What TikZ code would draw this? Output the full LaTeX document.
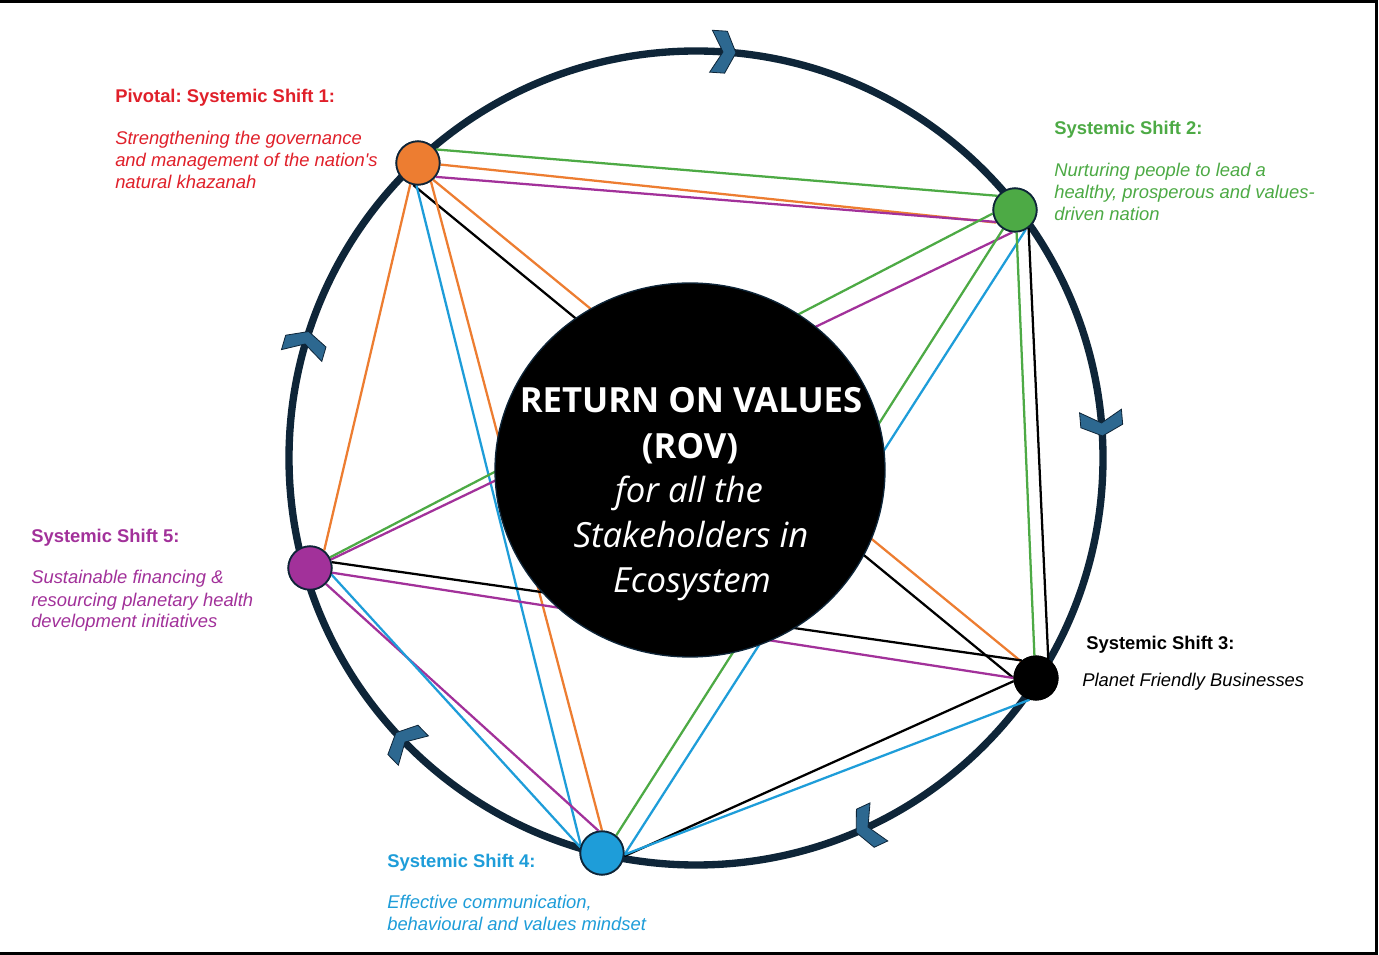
\documentclass[tikz,border=0pt]{standalone}
\usepackage{fontspec}
\setmainfont{Liberation Sans}
\newfontfamily\rovfont{Open Sans}
\usetikzlibrary{shapes.geometric}
\frenchspacing
\definecolor{ringc}{HTML}{0E2538}
\definecolor{chevc}{HTML}{2D6890}
\definecolor{redc}{HTML}{E0202A}
\definecolor{orc}{HTML}{ED7D31}
\definecolor{grc}{HTML}{4DAA45}
\definecolor{blc}{HTML}{1E9DD9}
\definecolor{puc}{HTML}{A2319A}
\begin{document}
\begin{tikzpicture}[x=0.75pt,y=-0.75pt,
  shiftnode/.style={circle, draw=ringc, line width=1.3pt, minimum size=32.5pt, inner sep=0pt},
  link/.style={line width=1.7pt},
  ttl/.style={anchor=base west, inner sep=0pt, font=\bfseries\fontsize{13.8}{16}\selectfont},
  bdy/.style={anchor=base west, inner sep=0pt, font=\itshape\fontsize{13.8}{16}\selectfont},
  rovl/.style={anchor=base, inner sep=0pt, text=white, font=\rovfont\fontsize{26}{30}\selectfont},
  chev/.pic={\draw[fill=chevc, draw=ringc, line width=0.6pt, line join=miter]
     (13,0) -- (3,21) -- (-12,21) -- (0,0) -- (-12,-21) -- (3,-21) -- cycle;}
]
\useasboundingbox[fill=white] (0,0) rectangle (1379,955);
% frame
\draw[line width=2pt] (0,1.4) -- (1376.2,1.4) -- (1376.2,953.3) -- (0,953.3);
% ring
\draw[ringc, line width=5.5pt] (696,458) circle[radius=407];
% shift nodes (placed first for anchors, redrawn later on top)
\node[shiftnode, fill=orc] (n1) at (418,163) {};
\node[shiftnode, fill=grc] (n2) at (1015,210) {};
\node[shiftnode, fill=black, draw=black] (n3) at (1036,678) {};
\node[shiftnode, fill=blc] (n4) at (602,853) {};
\node[shiftnode, fill=puc] (n5) at (310,568) {};
% links
\draw[link, grc] (n1.37) -- (n2.141);
\draw[link, orc] (n1.-4) -- (n2.214);
\draw[link, puc] (n1.-38) -- (n2.212);
\draw[link, orc] (n1.-48) -- (n3.132);
\draw[link, black] (n1.-102) -- (n3.180);
\draw[link, orc] (n1.-55) -- (n4.90);
\draw[link, blc] (n1.-94) -- (n4.160);
\draw[link, orc] (n1.-110) -- (n5.51);
\draw[link, grc] (n2.189) -- (n5.28);
\draw[link, puc] (n2.-97) -- (n5.22);
\draw[link, grc] (n2.238) -- (n4.51);
\draw[link, blc] (n2.-62) -- (n4.-4);
\draw[link, grc] (n2.-86) -- (n3.94);
\draw[link, black] (n2.-53) -- (n3.57);
\draw[link, black] (n5.15) -- (n3.129);
\draw[link, puc] (n5.-12) -- (n3.180);
\draw[link, puc] (n5.-45) -- (n4.99);
\draw[link, blc] (n5.-17) -- (n4.165);
\draw[link, black] (n3.188) -- (n4.-8);
\draw[link, blc] (n3.-106) -- (n4.-4);
% nodes on top
\node[shiftnode, fill=orc] at (n1) {};
\node[shiftnode, fill=grc] at (n2) {};
\node[shiftnode, fill=black, draw=black] at (n3) {};
\node[shiftnode, fill=blc] at (n4) {};
\node[shiftnode, fill=puc] at (n5) {};
% centre
\node[ellipse, fill=black, draw=ringc, line width=1pt, minimum width=292.5pt, minimum height=280.5pt, inner sep=0pt] (rov) at (690,470) {};
\node[rovl, font=\rovfont\bfseries\fontsize{26}{30}\selectfont] (r1) at (691,413) {RETURN ON VALUES};
\node[rovl, font=\rovfont\bfseries\fontsize{26}{30}\selectfont] (r2) at (690,459) {(ROV)};
\node[rovl, font=\rovfont\itshape\fontsize{26}{30}\selectfont] (r3) at (689,503) {for all the};
\node[rovl, font=\rovfont\itshape\fontsize{26}{30}\selectfont] (r4) at (691,548) {Stakeholders in};
\node[rovl, font=\rovfont\itshape\fontsize{26}{30}\selectfont] (r5) at (692,592) {Ecosystem};
% chevrons
\pic[rotate=-3.8] at (723,52) {chev};
\pic[rotate=-85.1] at (1101.5,423) {chev};
\pic[rotate=-155] at (868,827) {chev};
\pic[rotate=134.3] at (405,742) {chev};
\pic[rotate=73.7] at (305,344) {chev};
% labels
\node[ttl, text=redc] (t1) at (115,103) {Pivotal: Systemic Shift 1:};
\node[bdy, text=redc] (b1a) at (115,145) {Strengthening the governance};
\node[bdy, text=redc] (b1b) at (115,167) {and management of the nation\textquotesingle s};
\node[bdy, text=redc] (b1c) at (115,189) {natural khazanah};
\node[ttl, text=grc] (t2) at (1054,135) {Systemic Shift 2:};
\node[bdy, text=grc] (b2a) at (1054,177) {Nurturing people to lead a};
\node[bdy, text=grc] (b2b) at (1054,199) {healthy, prosperous and values-};
\node[bdy, text=grc] (b2c) at (1054,221) {driven nation};
\node[ttl, text=black] (t3) at (1086,649) {Systemic Shift 3:};
\node[bdy, text=black] (b3a) at (1082,686) {Planet Friendly Businesses};
\node[ttl, text=blc] (t4) at (387,867) {Systemic Shift 4:};
\node[bdy, text=blc] (b4a) at (387,908) {Effective communication,};
\node[bdy, text=blc] (b4b) at (387,930) {behavioural and values mindset};
\node[ttl, text=puc] (t5) at (31,543) {Systemic Shift 5:};
\node[bdy, text=puc] (b5a) at (31,584) {Sustainable financing \&};
\node[bdy, text=puc] (b5b) at (31,606) {resourcing planetary health};
\node[bdy, text=puc] (b5c) at (31,628) {development initiatives};
\end{tikzpicture}
\end{document}
